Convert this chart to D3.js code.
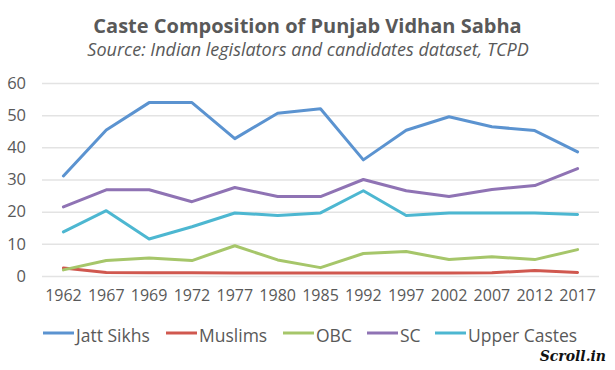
<!DOCTYPE html>
<html><head><meta charset="utf-8">
<script src="https://cdn.jsdelivr.net/npm/d3@7/dist/d3.min.js"></script>
<style>body{margin:0;background:#fff}svg{display:block}</style>
</head><body><svg id="c" width="615" height="370"></svg>
<script>
const years = ["1962","1967","1969","1972","1977","1980","1985","1992","1997","2002","2007","2012","2017"];
const seriesNames = ["Jatt Sikhs","Muslims","OBC","SC","Upper Castes"];
const jattSikhs = [31.1,45.4,53.9,53.9,42.7,50.6,52.0,36.1,45.3,49.5,46.4,45.2,38.6];
const muslims = [2.5,1.1,1.0,1.0,0.9,0.9,0.9,0.9,0.9,0.9,1.0,1.7,1.1];
const obc = [1.9,4.8,5.6,4.8,9.4,5.0,2.6,7.0,7.6,5.1,6.0,5.1,8.2];
const sc = [21.5,26.8,26.8,23.1,27.5,24.7,24.7,30.0,26.5,24.7,26.9,28.1,33.4];
const upperCastes = [13.7,20.3,11.5,15.3,19.6,18.8,19.6,26.5,18.8,19.6,19.6,19.6,19.1];
const yTicks = [0,10,20,30,40,50,60];
const colors = ["#5b93d0","#d0584f","#a6c66a","#8f73b4","#4db7d1"];

const data = [jattSikhs,muslims,obc,sc,upperCastes];
const svg = d3.select("#c");
const font = "'Open Sans', sans-serif";
const x = d3.scaleBand().domain(years).range([42,599]);
const y = d3.scaleLinear().domain([0,60]).range([276,83]);

svg.append("text").attr("x",307.5).attr("y",33).attr("text-anchor","middle")
  .style("font-family",font).style("font-weight","bold").style("font-size","20px").attr("fill","#595959")
  .text("Caste Composition of Punjab Vidhan Sabha");
svg.append("text").attr("x",308).attr("y",56).attr("text-anchor","middle")
  .style("font-family",font).style("font-style","italic").style("font-size","18px").attr("fill","#595959")
  .text("Source: Indian legislators and candidates dataset, TCPD");

const yAxis = svg.append("g").attr("transform","translate(42,0)")
  .call(d3.axisLeft(y).tickValues(yTicks).tickSize(-557).tickPadding(16));
yAxis.select(".domain").remove();
yAxis.selectAll("line").attr("stroke","#e3e3e3").attr("stroke-width",1.5);
yAxis.selectAll("text").style("font-family",font).style("font-size","16.5px").attr("fill","#595959");

const xAxis = svg.append("g").attr("transform","translate(0,276)")
  .call(d3.axisBottom(x).tickSize(0).tickPadding(14));
xAxis.select(".domain").remove();
xAxis.selectAll("text").style("font-family",font).style("font-size","16px").attr("fill","#595959");

const line = d3.line().x((d,i)=>x(years[i])+x.bandwidth()/2).y(d=>y(d));
data.forEach((s,k)=>{
  svg.append("path").datum(s).attr("d",line).attr("fill","none")
    .attr("stroke",colors[k]).attr("stroke-width",3).attr("stroke-linejoin","round").attr("stroke-linecap","round");
});

const legX = [43,166,283,367,435];
const lg = svg.append("g");
seriesNames.forEach((n,k)=>{
  lg.append("line").attr("x1",legX[k]).attr("x2",legX[k]+31).attr("y1",333).attr("y2",333)
    .attr("stroke",colors[k]).attr("stroke-width",3);
  lg.append("text").attr("x",legX[k]+33).attr("y",342).style("font-family",font).style("font-size","17.5px")
    .attr("fill","#595959").text(n);
});

svg.append("text").attr("x",606).attr("y",361).attr("text-anchor","end")
  .style("font-family","'DejaVu Serif', serif").style("font-style","italic").style("font-weight","bold")
  .style("font-size","14px").attr("fill","#111").text("Scroll.in");
</script></body></html>
